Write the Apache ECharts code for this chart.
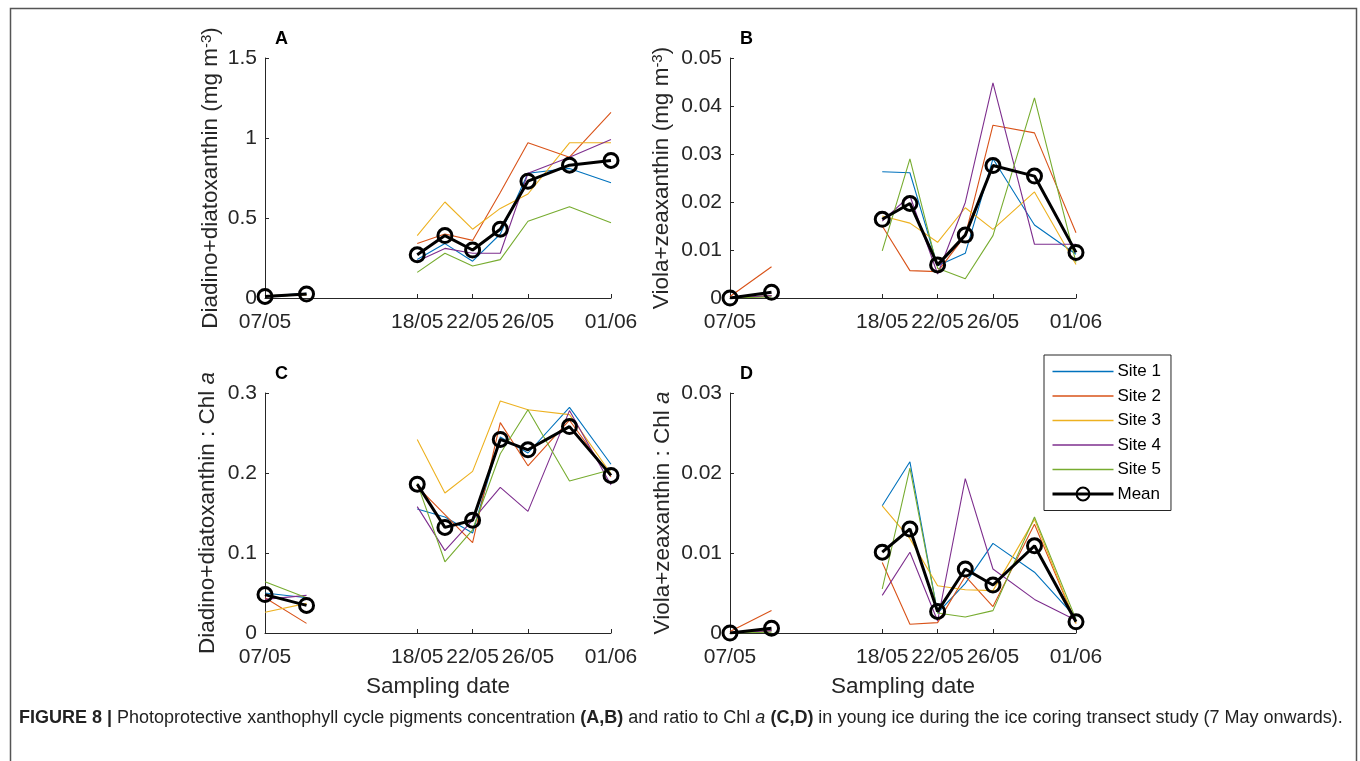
<!DOCTYPE html>
<html>
<head>
<meta charset="utf-8">
<script src="https://cdn.jsdelivr.net/npm/echarts@6/dist/echarts.min.js"></script>
<style>
  html, body { margin: 0; padding: 0; background: #fff; }
  #main { width: 1360px; height: 761px; }
</style>
</head>
<body>
<div id="main"></div>
<script>
// sampling days counted from 07/05
var days = [0, 3, 11, 13, 15, 17, 19, 22, 25];
var tickDays = [0, 11, 15, 19, 25];
var tickLabels = ['07/05', '18/05', '22/05', '26/05', '01/06'];
var seriesNames = ['Site 1', 'Site 2', 'Site 3', 'Site 4', 'Site 5', 'Mean'];
var siteColors = ['#0072BD', '#D95319', '#EDB120', '#7E2F8E', '#77AC30', '#000000'];

// A: diadino+diatoxanthin (mg m-3)
var ddConc = [
  [0.012, 0.03, 0.24, 0.34, 0.23, 0.40, 0.78, 0.81, 0.72],
  [0.010, 0.02, 0.34, 0.40, 0.36, 0.66, 0.97, 0.88, 1.16],
  [0.015, 0.02, 0.39, 0.60, 0.43, 0.56, 0.65, 0.97, 0.97],
  [0.010, 0.02, 0.23, 0.31, 0.28, 0.28, 0.78, 0.88, 0.99],
  [0.008, 0.02, 0.16, 0.28, 0.20, 0.24, 0.48, 0.57, 0.47],
  [0.010, 0.025, 0.27, 0.39, 0.30, 0.43, 0.73, 0.83, 0.86]
];
// B: viola+zeaxanthin (mg m-3)
var vzConc = [
  [0, 0.0005, 0.0263, 0.0261, 0.0067, 0.0093, 0.0290, 0.0152, 0.0091],
  [0.0003, 0.0065, 0.0150, 0.0057, 0.0055, 0.0130, 0.0360, 0.0344, 0.0136],
  [0, 0.0005, 0.0171, 0.0156, 0.0116, 0.0188, 0.0143, 0.0221, 0.0070],
  [0, 0.0005, 0.0160, 0.0213, 0.0050, 0.0199, 0.0448, 0.0112, 0.0112],
  [0, 0.0002, 0.0098, 0.0290, 0.0062, 0.0040, 0.0130, 0.0417, 0.0074],
  [0, 0.0012, 0.0164, 0.0197, 0.0069, 0.0131, 0.0276, 0.0254, 0.0095]
];
// C: diadino+diatoxanthin : Chl a
var ddRatio = [
  [0.050, 0.044, 0.155, 0.145, 0.125, 0.245, 0.225, 0.282, 0.211],
  [0.044, 0.012, 0.183, 0.148, 0.113, 0.263, 0.209, 0.266, 0.195],
  [0.026, 0.037, 0.242, 0.175, 0.202, 0.290, 0.279, 0.273, 0.199],
  [0.042, 0.047, 0.158, 0.103, 0.141, 0.182, 0.152, 0.278, 0.185],
  [0.064, 0.044, 0.187, 0.089, 0.129, 0.224, 0.279, 0.190, 0.204],
  [0.048, 0.0345, 0.186, 0.132, 0.141, 0.242, 0.229, 0.258, 0.197]
];
// D: viola+zeaxanthin : Chl a
var vzRatio = [
  [0, 0.0003, 0.0159, 0.0214, 0.0025, 0.0062, 0.0112, 0.0076, 0.0019],
  [0.0002, 0.0028, 0.0088, 0.0011, 0.0013, 0.0071, 0.0033, 0.0136, 0.0012],
  [0, 0.0003, 0.0159, 0.0118, 0.0059, 0.0054, 0.0053, 0.0142, 0.0012],
  [0, 0.0003, 0.0047, 0.0101, 0.0015, 0.0193, 0.0080, 0.0042, 0.0016],
  [0, 0.0001, 0.0055, 0.0206, 0.0025, 0.0020, 0.0028, 0.0145, 0.0017],
  [0, 0.0006, 0.0101, 0.0130, 0.0027, 0.0080, 0.0060, 0.0109, 0.0014]
];

var panelData = [ddConc, vzConc, ddRatio, vzRatio];
var yMax = [1.5, 0.05, 0.3, 0.03];
var yStep = [0.5, 0.01, 0.1, 0.01];
var panelLetters = ['A', 'B', 'C', 'D'];

var font = 'Liberation Sans, Arial, Helvetica, sans-serif';
var ink = '#262626';

var grids = [
  { left: 265, top: 58, width: 346, height: 240 },
  { left: 730, top: 58, width: 346, height: 240 },
  { left: 265, top: 393, width: 346, height: 240 },
  { left: 730, top: 393, width: 346, height: 240 }
];

var yNames = [
  '{t|Diadino+diatoxanthin (mg m}{s|-3}{t|)}',
  '{t|Viola+zeaxanthin (mg m}{s|-3}{t|)}',
  '{t|Diadino+diatoxanthin : Chl }{i|a}',
  '{t|Viola+zeaxanthin : Chl }{i|a}'
];
var yNameGap = [42, 56, 46, 56];

var nameRich = {
  t: { fontSize: 22.5, color: ink, fontFamily: font },
  s: { fontSize: 15, color: ink, fontFamily: font, verticalAlign: 'top', padding: [0, 0, 9, 0] },
  i: { fontSize: 22.5, color: ink, fontFamily: font, fontStyle: 'italic' }
};

function pairs(vals) {
  var out = [];
  for (var k = 0; k < days.length; k++) {
    if (k === 2) out.push([7, '-']);   // gap between the two sampling periods
    out.push([days[k], vals[k]]);
  }
  return out;
}

var xAxes = [], yAxes = [], series = [];
for (var p = 0; p < 4; p++) {
  xAxes.push({
    gridIndex: p, type: 'value', min: 0, max: 25,
    axisLine: { show: true, onZero: false, lineStyle: { color: ink, width: 1 } },
    axisTick: { show: true, inside: true, length: 4, customValues: tickDays, lineStyle: { color: ink } },
    axisLabel: {
      customValues: tickDays, margin: 14, color: ink, fontSize: 21, fontFamily: font,
      formatter: function (v) { return tickLabels[tickDays.indexOf(v)]; }
    },
    splitLine: { show: false },
    name: p >= 2 ? 'Sampling date' : '',
    nameLocation: 'middle', nameGap: 42,
    nameTextStyle: { fontSize: 22.5, color: ink, fontFamily: font }
  });
  yAxes.push({
    gridIndex: p, type: 'value', min: 0, max: yMax[p], interval: yStep[p],
    axisLine: { show: true, lineStyle: { color: ink, width: 1 } },
    axisTick: { show: true, inside: true, length: 4, lineStyle: { color: ink } },
    axisLabel: { margin: 8, color: ink, fontSize: 21, fontFamily: font },
    splitLine: { show: false },
    name: yNames[p], nameLocation: 'middle', nameRotate: 90, nameGap: yNameGap[p],
    nameTextStyle: { rich: nameRich }
  });
  for (var s = 0; s < 6; s++) {
    var isMean = s === 5;
    series.push({
      name: seriesNames[s], type: 'line',
      xAxisIndex: p, yAxisIndex: p,
      data: pairs(panelData[p][s]),
      z: isMean ? 5 : 2,
      symbol: isMean ? 'circle' : 'none',
      symbolSize: 14,
      showSymbol: isMean,
      itemStyle: isMean ? { color: 'rgba(0,0,0,0)', borderColor: '#000', borderWidth: 3 } : { color: siteColors[s] },
      lineStyle: { color: siteColors[s], width: isMean ? 3 : 1.1 },
      emphasis: { disabled: true },
      animation: false
    });
  }
}

var legendItems = seriesNames.map(function (n, s) {
  if (s === 5) return { name: n, lineStyle: { width: 3, color: '#000' } };
  return {
    name: n, icon: 'path://M0,0H61V1.4H0Z',
    itemStyle: { color: siteColors[s], borderWidth: 0, opacity: 1 }
  };
});

var letters = panelLetters.map(function (L, p) {
  return {
    type: 'text', left: grids[p].left + 10, top: grids[p].top - 28,
    style: { text: L, font: 'bold 18px ' + font, fill: '#000' }
  };
});

var capFont = '"Liberation Sans", Arial, sans-serif';

var chart = echarts.init(document.getElementById('main'));
chart.setOption({
  backgroundColor: '#fff',
  animation: false,
  grid: grids,
  xAxis: xAxes,
  yAxis: yAxes,
  series: series,
  legend: {
    data: legendItems,
    orient: 'vertical',
    left: 1044, top: 355,
    padding: [8, 10, 8, 7],
    itemWidth: 61, itemHeight: 16, itemGap: 7.5,
    borderColor: ink, borderWidth: 1,
    backgroundColor: '#fff',
    selectedMode: false,
    textStyle: { fontSize: 17, color: '#000', fontFamily: font, padding: [0, 0, 0, -1] }
  },
  graphic: letters.concat([
    {
      type: 'rect', left: 8, top: 6, silent: true,
      shape: { width: 1346, height: 800 },
      style: { fill: 'none', stroke: '#555', lineWidth: 1.5 }
    },
    {
      type: 'text', left: 19, top: 709,
      style: {
        text: '{b|FIGURE 8 |} Photoprotective xanthophyll cycle pigments concentration {b|(A,B)} and ratio to Chl {i|a} {b|(C,D)} in young ice during the ice coring transect study (7 May onwards).',
        font: '18px ' + capFont,
        fill: '#222',
        rich: {
          b: { fontWeight: 'bold', fontSize: 18, fontFamily: capFont, fill: '#222' },
          i: { fontStyle: 'italic', fontSize: 18, fontFamily: capFont, fill: '#222' }
        }
      }
    }
  ])
});
</script>
</body>
</html>
